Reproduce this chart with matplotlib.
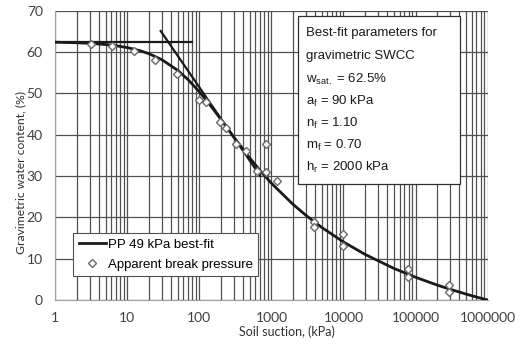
import matplotlib
matplotlib.use("Agg")
import matplotlib.pyplot as plt
import matplotlib.ticker as mticker
from matplotlib.patches import Rectangle
import numpy as np

plt.rcParams['font.family'] = ['Lato', 'DejaVu Sans']
plt.rcParams['mathtext.fontset'] = 'custom'
plt.rcParams['mathtext.rm'] = 'Liberation Sans'
plt.rcParams['mathtext.it'] = 'Liberation Sans'

# best-fit curve (values read at fixed suctions)
fit_suction = [1, 2, 3, 5, 7, 10, 15, 20, 30, 50, 70, 100, 150, 200, 300, 500, 700,
               1000, 2000, 3000, 5000, 10000, 20000, 50000, 100000, 200000, 300000,
               500000, 700000, 1000000]
fit_water = [62.38, 62.25, 62.11, 61.82, 61.52, 61.08, 60.33, 59.59, 58.17, 55.57, 53.28,
             50.37, 46.55, 43.64, 39.44, 34.36, 31.26, 28.24, 23.12, 20.51, 17.55, 14.04,
             11.02, 7.65, 5.50, 3.61, 2.61, 1.44, 0.72, 0.0]

# tangent lines
flat_x = [1, 78]
flat_y = [62.5, 62.5]
steep_x = [29, 700]
steep_y = [65.1, 30.0]

# apparent break pressure points
pts_suction = [3.1, 6.2, 12.4, 24.5, 48.5, 99, 125, 192, 235, 325, 445, 640, 830, 830,
               1200, 3900, 3900, 9800, 9800, 78000, 78000, 295000, 295000]
pts_water = [62.0, 61.5, 60.3, 58.1, 54.7, 48.3, 47.9, 43.0, 41.6, 37.8, 36.0, 31.2, 37.8,
             30.9, 28.7, 18.9, 17.7, 15.9, 13.1, 7.4, 5.6, 3.6, 2.0]

x_ticks = [1, 10, 100, 1000, 10000, 100000, 1000000]
x_ticklabels = ['1', '10', '100', '1000', '10000', '100000', '1000000']

box_lines = ['Best-fit parameters for', 'gravimetric SWCC',
             r'w$_{\mathrm{sat.}}$ = 62.5%', r'a$_{\mathrm{f}}$ = 90 kPa',
             r'n$_{\mathrm{f}}$ = 1.10', r'm$_{\mathrm{f}}$ = 0.70',
             r'h$_{\mathrm{r}}$ = 2000 kPa']

fig = plt.figure(figsize=(5.22, 3.46), dpi=100)
ax = fig.add_axes([0.106, 0.133, 0.828, 0.836])

ax.plot(fit_suction, fit_water, color='#1a1a1a', lw=2.0, label='PP 49 kPa best-fit', zorder=4)
ax.plot(flat_x, flat_y, color='#1a1a1a', lw=1.6, zorder=4)
ax.plot(steep_x, steep_y, color='#1a1a1a', lw=1.6, zorder=4)
ax.plot(pts_suction, pts_water, ls='none', marker='D', ms=4, mfc='white', mec='#6a6a6a',
        mew=1.0, label='Apparent break pressure', zorder=5)

ax.set_xscale('log')
ax.set_xlim(1, 1e6)
ax.set_ylim(0, 70)
ax.set_yticks(range(0, 71, 10))
ax.xaxis.set_major_locator(mticker.FixedLocator(x_ticks))
ax.xaxis.set_major_formatter(mticker.FixedFormatter(x_ticklabels))
minor = [m * 10 ** d for d in range(6) for m in range(2, 10)]
ax.xaxis.set_minor_locator(mticker.FixedLocator(minor))
ax.xaxis.set_minor_formatter(mticker.NullFormatter())

ax.grid(True, which='major', axis='both', color='#505050', lw=0.9)
ax.grid(True, which='minor', axis='x', color='#505050', lw=0.9)
ax.set_axisbelow(True)
for s in ['top', 'right']:
    ax.spines[s].set_visible(False)
for s in ['left', 'bottom']:
    ax.spines[s].set_color('#a0a0a0')
ax.tick_params(which='both', length=0, labelsize=10, colors='#404040')
ax.tick_params(axis='y', pad=9)
ax.tick_params(axis='x', pad=9)

# axis titles placed as in the reference
fig.text(287 / 522, 1 - 332 / 346, 'Soil suction, (kPa)', fontsize=9, color='#303030',
         ha='center', va='center')
fig.text(20.7 / 522, 1 - 172 / 346, 'Gravimetric water content, (%)', fontsize=8.7,
         color='#303030', ha='center', va='center', rotation=90)

leg = ax.legend(loc='lower left', bbox_to_anchor=(0.0416, 0.083), borderaxespad=0,
                frameon=True, fancybox=False, edgecolor='#505050', framealpha=1,
                handlelength=2.1, handletextpad=0.1, borderpad=0.4, labelspacing=0.6,
                prop={'family': 'Liberation Sans', 'size': 9.5})
leg.get_frame().set_linewidth(0.8)

ax.add_patch(Rectangle((0.562, 0.401), 0.374, 0.582, transform=ax.transAxes,
                       facecolor='white', edgecolor='#303030', lw=0.9, zorder=6))
line_y = [0.922, 0.843, 0.764, 0.688, 0.609, 0.533, 0.457]
for t, yy in zip(box_lines, line_y):
    ax.text(0.581, yy, t, transform=ax.transAxes, fontsize=9.5, va='center', ha='left',
            family='Liberation Sans', color='#1a1a1a', zorder=7)

fig.savefig('out.png', dpi=100)
